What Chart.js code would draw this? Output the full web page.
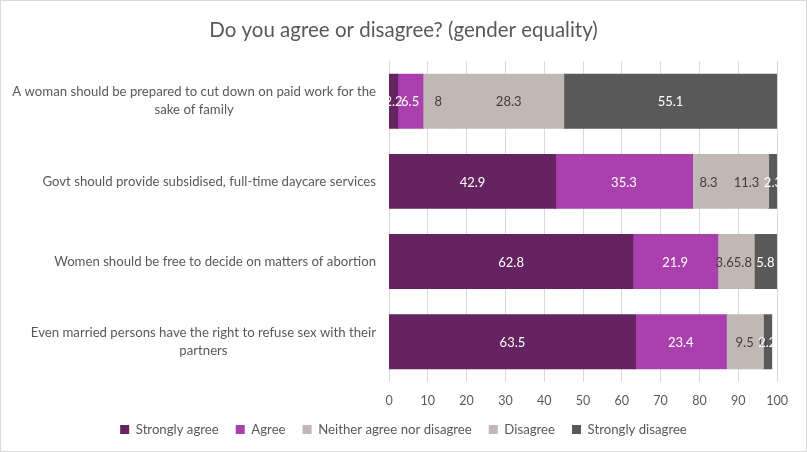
<!DOCTYPE html>
<html lang="en">
<head>
    <meta charset="UTF-8">
    <title>Gender equality survey</title>
    <script src="https://cdn.jsdelivr.net/npm/chart.js@4/dist/chart.umd.min.js"></script>
    <style>
        body {
            margin: 0;
            background: #fff;
        }

        .frame {
            width: 805px;
            height: 450px;
            border: 1px solid #d9d9d9;
        }
    </style>
</head>
<body>
    <div class="frame">
        <canvas id="chart" width="805" height="450"></canvas>
    </div>

    <script>
        // survey statements (wrapped the same way the labels are shown)
        const statements = [
            ['A woman should be prepared to cut down on paid work for the', 'sake of family'],
            ['Govt should provide subsidised, full-time daycare services'],
            ['Women should be free to decide on matters of abortion'],
            ['Even married persons have the right to refuse sex with their', 'partners']
        ];

        const responses = ['Strongly agree', 'Agree', 'Neither agree nor disagree', 'Disagree', 'Strongly disagree'];

        // percent per statement
        const stronglyAgree = [2.2, 42.9, 62.8, 63.5];
        const agree = [6.5, 35.3, 21.9, 23.4];
        const neither = [8, 8.3, 3.6, 9.5];
        const disagree = [28.3, 11.3, 5.8, 0];
        const stronglyDisagree = [55.1, 2.3, 5.8, 2.2];

        const xTicks = [0, 10, 20, 30, 40, 50, 60, 70, 80, 90, 100];

        const colors = ['#652461', '#aa40ad', '#c0b8b4', '#c0b8b4', '#595959'];
        const labelColors = ['#ffffff', '#ffffff', '#404040', '#404040', '#ffffff'];
        const FONT = 'Lato, "Open Sans", sans-serif';

        // values written in the middle of each segment
        const valueLabels = {
            id: 'valueLabels',
            afterDatasetsDraw(chart) {
                const ctx = chart.ctx;
                ctx.save();
                ctx.font = '13px ' + FONT;
                ctx.textAlign = 'center';
                ctx.textBaseline = 'middle';
                chart.data.datasets.forEach((ds, i) => {
                    const meta = chart.getDatasetMeta(i);
                    meta.data.forEach((bar, j) => {
                        const p = bar.getProps(['x', 'y', 'base']);
                        ctx.fillStyle = labelColors[i];
                        ctx.fillText(String(ds.data[j]), (p.x + p.base) / 2, p.y + 1);
                    });
                });
                ctx.restore();
            }
        };

        // statement labels: block right-aligned to the axis, lines centred in the block
        const statementLabels = {
            id: 'statementLabels',
            afterDraw(chart) {
                const ctx = chart.ctx;
                const yScale = chart.scales.y;
                const right = chart.chartArea.left - 13;
                const lineH = 18;
                ctx.save();
                ctx.font = '13.2px ' + FONT;
                ctx.fillStyle = '#595959';
                ctx.textAlign = 'center';
                ctx.textBaseline = 'middle';
                statements.forEach((lines, i) => {
                    const w = Math.max(...lines.map(l => ctx.measureText(l).width));
                    const cx = right - w / 2;
                    const yc = yScale.getPixelForTick(i);
                    const top = yc - (lines.length - 1) * lineH / 2;
                    lines.forEach((l, k) => ctx.fillText(l, cx, top + k * lineH));
                });
                ctx.restore();
            }
        };

        const values = [stronglyAgree, agree, neither, disagree, stronglyDisagree];

        new Chart(document.getElementById('chart'), {
            type: 'bar',
            data: {
                labels: statements.map(s => s.join(' ')),
                datasets: responses.map((name, i) => ({
                    label: name,
                    data: values[i],
                    backgroundColor: colors[i],
                    borderWidth: 0,
                    inflateAmount: 0.6,
                    categoryPercentage: 0.67,
                    barPercentage: 1
                }))
            },
            options: {
                indexAxis: 'y',
                responsive: false,
                animation: false,
                layout: {
                    padding: { left: 29, right: 29, bottom: 5 }
                },
                scales: {
                    x: {
                        stacked: true,
                        min: 0,
                        max: 100,
                        afterBuildTicks: axis => {
                            axis.ticks = xTicks.map(v => ({ value: v }));
                        },
                        afterFit: axis => {
                            axis.height -= 15;
                        },
                        grid: { color: '#d9d9d9', drawTicks: false },
                        border: { display: false },
                        ticks: {
                            color: '#595959',
                            font: { family: FONT, size: 12.5 },
                            padding: 12
                        }
                    },
                    y: {
                        stacked: true,
                        grid: { display: false },
                        border: { color: '#d9d9d9' },
                        ticks: { display: false },
                        afterFit: axis => {
                            axis.width = 359;
                        }
                    }
                },
                plugins: {
                    title: {
                        display: true,
                        text: 'Do you agree or disagree? (gender equality)',
                        color: '#595959',
                        font: { family: FONT, size: 20.5, weight: 'normal' },
                        padding: { top: 17, bottom: 18.5 }
                    },
                    legend: {
                        position: 'bottom',
                        labels: {
                            color: '#595959',
                            font: { family: FONT, size: 13.2 },
                            boxWidth: 9,
                            boxHeight: 9,
                            padding: 17
                        }
                    },
                    tooltip: { enabled: false }
                }
            },
            plugins: [valueLabels, statementLabels]
        });
    </script>
</body>
</html>
